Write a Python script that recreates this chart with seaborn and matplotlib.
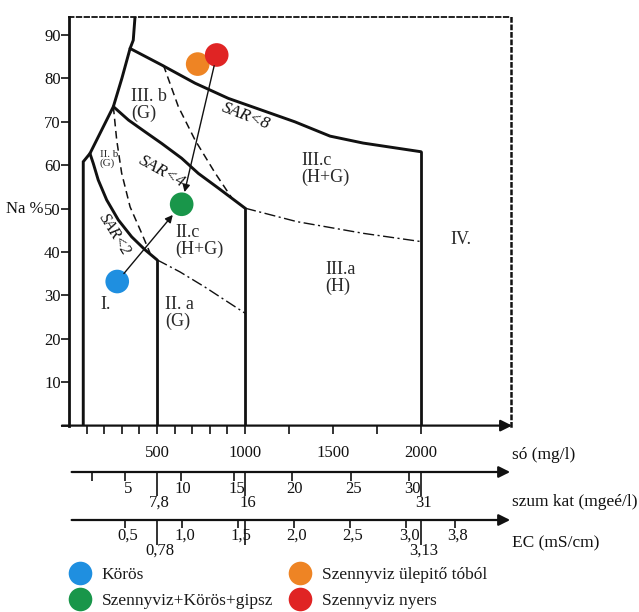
import numpy as np
import pandas as pd
import matplotlib
matplotlib.use("Agg")
import matplotlib.pyplot as plt
from matplotlib.lines import Line2D
import seaborn as sns

# ---------------- data ----------------
series = ["Körös", "Szennyviz+Körös+gipsz", "Szennyviz ülepitő tóból", "Szennyviz nyers"]
salt_mg = [274, 640, 731, 839]          # só (mg/l)
na_pct = [33.2, 51.0, 83.3, 85.4]       # Na %
colors = ["#1f8fe0", "#19964a", "#ee8424", "#e02424"]

# classification boundaries (só mg/l, Na %)
left_x = [81, 81, 119, 252, 301, 347, 365, 375]
left_y = [0, 60.8, 62.7, 73.5, 80.1, 86.9, 88.8, 94.2]
sar2_x = [119, 138, 166, 214, 280, 356, 432, 500]
sar2_y = [62.7, 60.4, 56.6, 52.0, 47.4, 43.5, 40.5, 38.2]
sar2_ext_x = [500, 631, 773, 1000]
sar2_ext_y = [38.2, 35.4, 31.9, 25.9]
sar4_x = [252, 338, 432, 527, 640, 735, 849, 1000]
sar4_y = [73.5, 70.4, 67.7, 65.0, 61.6, 58.1, 54.7, 50.1]
sar4_ext_x = [1000, 1294, 1672, 2000]
sar4_ext_y = [50.1, 47.0, 44.3, 42.4]
sar8_x = [347, 526, 716, 905, 1094, 1283, 1483, 1671, 2000]
sar8_y = [86.9, 83.1, 78.9, 75.4, 72.7, 70.0, 66.7, 65.1, 63.1]
dash1_x = [252, 271, 299, 347, 413, 460]
dash1_y = [73.5, 65.8, 58.2, 50.4, 44.3, 39.8]
dash2_x = [536, 621, 716, 830, 924]
dash2_y = [83.1, 73.5, 65.8, 58.2, 52.5]
wall_x = [500, 1000, 2000]
wall_top = [38.2, 50.1, 63.1]

# class labels: text, só, Na %, font size
regions = [
    ("III. b\n(G)", 352, 73.9, 13),
    ("II. b\n(G)", 176, 61.4, 8),
    ("II.c\n(H+G)", 602, 42.5, 13),
    ("I.", 176, 27.8, 13),
    ("II. a\n(G)", 545, 25.9, 13),
    ("III.a\n(H)", 1455, 34.0, 13),
    ("IV.", 2165, 42.8, 13),
    ("III.c\n(H+G)", 1322, 59.1, 13),
]
sar_labels = [("SAR<8", 1005, 71.2, -21, 12.5),
              ("SAR<4", 530, 58.6, -29, 12.5),
              ("SAR<2", 256, 44.1, -58, 11.5)]

# axis ticks
salt_ticks = [100, 200, 300, 400, 500, 600, 700, 800, 900, 1000, 1250, 1500, 1750, 2000]
salt_labeled = [500, 1000, 1500, 2000]
na_ticks = [0, 10, 20, 30, 40, 50, 60, 70, 80, 90]

# secondary scales: szum kat (mgeé/l) and EC (mS/cm), calibrated on só (mg/l)
kat_ticks = [5, 10, 15, 20, 25, 30]
kat_minor = [2]
kat_marks = [7.8, 16, 31]
kat_calib = [0, 7.8, 16, 31]
ec_ticks = [0.5, 1.0, 1.5, 2.0, 2.5, 3.0, 3.8]
ec_marks = [0.78, 1.56, 3.13]
ec_mark_labels = ["0,78", "", "3,13"]
ec_calib = [0, 0.78, 1.56, 3.13, 3.8]
salt_calib_kat = [0, 500, 1000, 2000]
salt_calib_ec = [0, 500, 1000, 2000, 2190]

# ---------------- figure ----------------
sns.set_style("white")
plt.rcParams["font.family"] = ["Liberation Serif", "DejaVu Serif"]
plt.rcParams["text.color"] = "#1a1a1a"

W, H = 639, 612
fig = plt.figure(figsize=(W / 100, H / 100), dpi=100)
XMAX, YMAX = 2508, 94.15
ax = fig.add_axes([69 / W, (H - 425.6) / H, 441.5 / W, 408.6 / H])
ax.set_xlim(0, XMAX)
ax.set_ylim(0, YMAX)
ax.set_facecolor("none")

ink = "#111111"
thick = dict(color=ink, lw=2.1, solid_joinstyle="miter", zorder=2)
ax.plot(left_x, left_y, **thick)
ax.plot(sar2_x, sar2_y, **thick)
ax.plot(sar4_x, sar4_y, **thick)
ax.plot(sar8_x, sar8_y, **thick)
for x, top in zip(wall_x, wall_top):
    ax.plot([x, x], [0, top], color=ink, lw=2.0, zorder=2)
ax.plot(sar2_ext_x, sar2_ext_y, color=ink, lw=1.0, dashes=(8, 2.5, 1.5, 2.5), zorder=2)
ax.plot(sar4_ext_x, sar4_ext_y, color=ink, lw=1.0, dashes=(8, 2.5, 1.5, 2.5), zorder=2)
ax.plot(dash1_x, dash1_y, color=ink, lw=1.1, dashes=(5, 3), zorder=2)
ax.plot(dash2_x, dash2_y, color=ink, lw=1.1, dashes=(5, 3), zorder=2)

for text, x, y, fs in regions:
    ax.text(x, y, text, fontsize=fs, ha="left", va="center", color="#2a2a2a",
            linespacing=1.0)
for text, x, y, rot, fs in sar_labels:
    ax.text(x, y, text, fontsize=fs, style="italic", ha="center", va="center",
            rotation=rot, rotation_mode="anchor", color=ink)

# sample points
df = pd.DataFrame({"series": series, "salt": salt_mg, "na": na_pct})
sns.scatterplot(data=df, x="salt", y="na", hue="series", hue_order=series,
                palette=colors, s=290, linewidth=0, legend=False, ax=ax, zorder=3)

arrow = dict(arrowstyle="-|>", lw=1.0, color=ink, mutation_scale=11)
ax.annotate("", xy=(salt_mg[1], na_pct[1]), xytext=(salt_mg[0], na_pct[0]),
            arrowprops=dict(**arrow, shrinkA=7.5, shrinkB=10), zorder=4)
ax.annotate("", xy=(salt_mg[1], na_pct[1]), xytext=(salt_mg[3], na_pct[3]),
            arrowprops=dict(**arrow, shrinkA=8, shrinkB=9), zorder=4)

# frame: solid y axis, dotted top and right, arrow for só axis
ax.spines["left"].set_linewidth(2.0)
ax.spines["left"].set_color(ink)
ax.spines["top"].set_linestyle((0, (2.5, 1.8)))
ax.spines["top"].set_linewidth(1.3)
ax.spines["top"].set_color(ink)
ax.spines["right"].set_linestyle((0, (1.3, 1.7)))
ax.spines["right"].set_linewidth(1.8)
ax.spines["right"].set_color(ink)
ax.spines["bottom"].set_visible(False)
ax.annotate("", xy=(2517, 0), xytext=(-40, 0), annotation_clip=False,
            arrowprops=dict(arrowstyle="-|>", lw=1.6, color=ink, mutation_scale=17,
                            shrinkA=0, shrinkB=0))

ax.set_yticks(na_ticks)
ax.set_yticklabels(["" if v == 0 else str(v) for v in na_ticks])
ax.set_xticks(salt_ticks)
ax.set_xticklabels([str(v) if v in salt_labeled else "" for v in salt_ticks])
ax.tick_params(axis="y", direction="out", length=5.5, width=1.2, pad=0.5,
               labelsize=12, colors=ink, left=True)
ax.tick_params(axis="x", direction="out", length=5.8, width=1.2, pad=8.5,
               labelsize=12, colors=ink, bottom=True)
ax.set_xlabel("")
ax.set_ylabel("")
ax.annotate("Na %", xy=(0, 50), xytext=(-25, 0), textcoords="offset pixels",
            ha="right", va="center", fontsize=12, color=ink)

# ---------------- secondary scales (y in pixel rows) ----------------
ov = fig.add_axes([69 / W, 0, 441.5 / W, 1])
ov.set_xlim(0, XMAX)
ov.set_ylim(H, 0)
ov.axis("off")

def kat_to_salt(v):
    return np.interp(v, kat_calib, salt_calib_kat)

def ec_to_salt(v):
    return np.interp(v, ec_calib, salt_calib_ec)

def fmt(v):
    return str(v).replace(".", ",")

for row in (472, 520):
    ov.annotate("", xy=(2506, row), xytext=(15, row),
                arrowprops=dict(arrowstyle="-|>", lw=1.6, color=ink, mutation_scale=17,
                                shrinkA=0, shrinkB=0))

lab = dict(fontsize=12, ha="center", va="center", color=ink)
# szum kat
ov.vlines(kat_to_salt(np.array(kat_ticks + kat_minor)), 472, 481, color=ink, lw=1.2)
for v in kat_ticks:
    ov.text(kat_to_salt(v) + 15, 489, fmt(v), **lab)
ov.vlines(kat_to_salt(np.array(kat_marks)), 472, 496, color=ink, lw=1.2)
for v in kat_marks:
    ov.text(kat_to_salt(v) + 15, 503, fmt(v), **lab)
# EC
ov.vlines(ec_to_salt(np.array(ec_ticks)), 520, 528, color=ink, lw=1.2)
for v in ec_ticks:
    ov.text(ec_to_salt(v) + 15, 536, fmt(v), **lab)
ov.vlines(ec_to_salt(np.array(ec_marks)), 520, 545, color=ink, lw=1.2)
for v, t in zip(ec_marks, ec_mark_labels):
    ov.text(ec_to_salt(v) + 15, 551, t, **lab)

ttl = dict(fontsize=12.5, ha="left", va="center", color=ink)
ov.text(2517, 455, "só (mg/l)", **ttl)
ov.text(2517, 502, "szum kat (mgeé/l)", **ttl)
ov.text(2517, 543, "EC (mS/cm)", **ttl)

# legend
handles = [Line2D([], [], ls="", marker="o", ms=17, mfc=c, mec="none") for c in colors]
fig.legend(handles, series, loc="upper left", bbox_to_anchor=(71 / W, (H - 567) / H),
           ncol=2, frameon=False, fontsize=12.5, handlelength=1.0, handletextpad=0.78,
           columnspacing=1.05, labelspacing=0.55, borderpad=0, borderaxespad=0)

fig.savefig("out.png", dpi=100)
